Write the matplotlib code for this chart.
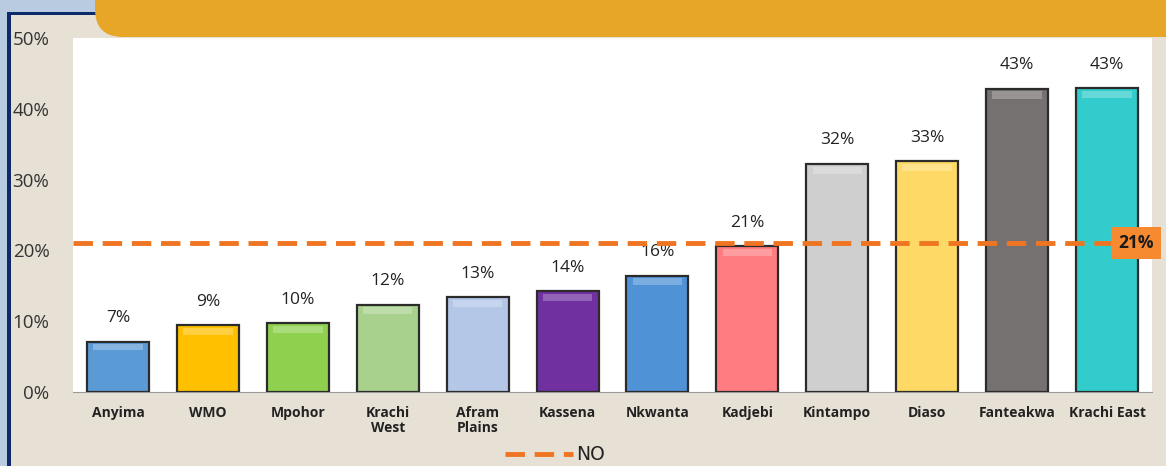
import matplotlib
matplotlib.use("Agg")
import matplotlib.pyplot as plt
from matplotlib.patches import FancyBboxPatch, Rectangle
from matplotlib.lines import Line2D
import numpy as np

categories = ["Anyima", "WMO", "Mpohor", "Krachi\nWest", "Afram\nPlains", "Kassena",
              "Nkwanta", "Kadjebi", "Kintampo", "Diaso", "Fanteakwa", "Krachi East"]
values = [7.1, 9.4, 9.7, 12.3, 13.4, 14.2, 16.4, 20.6, 32.2, 32.6, 42.8, 42.9]
value_labels = ["7%", "9%", "10%", "12%", "13%", "14%", "16%", "21%", "32%", "33%", "43%", "43%"]
bar_colors = ["#5b9bd5", "#ffc000", "#8fd14f", "#a9d18e", "#b4c7e7", "#7030a0",
              "#4f92d6", "#ff7c80", "#cfcfcf", "#ffd966", "#767171", "#33cccc"]
ref_value = 21
ref_label = "21%"
legend_label = "NO"
yticks = [0, 10, 20, 30, 40, 50]
ytick_labels = ["0%", "10%", "20%", "30%", "40%", "50%"]

W, H = 1166, 466
fig = plt.figure(figsize=(W / 100, H / 100), dpi=100, facecolor="#e6e1d4")

# decorations
fig.patches.append(Rectangle((0, 0), 7 / W, 1, transform=fig.transFigure,
                             facecolor="#b8cbe0", edgecolor="none", zorder=0))
fig.patches.append(Rectangle((0, (H - 12) / H), 95 / W, 12 / H, transform=fig.transFigure,
                             facecolor="#b8cbe0", edgecolor="none", zorder=0))
fig.patches.append(Rectangle((7 / W, 0), 4 / W, (H - 12) / H, transform=fig.transFigure,
                             facecolor="#0d2a6b", edgecolor="none", zorder=1))
fig.patches.append(Rectangle((7 / W, (H - 15) / H), 90 / W, 3 / H, transform=fig.transFigure,
                             facecolor="#0d2a6b", edgecolor="none", zorder=1))
fig.patches.append(FancyBboxPatch((95 / W, (H - 37) / H), 1.2, 0.2,
                                  boxstyle="round,pad=0,rounding_size=0.024",
                                  transform=fig.transFigure, mutation_aspect=2.5,
                                  facecolor="#e8a628", edgecolor="none", zorder=2))

ax = fig.add_axes([73 / W, (H - 392) / H, 1079 / W, 354 / H])
ax.set_facecolor("white")
x = np.arange(len(categories))
bars = ax.bar(x, values, width=0.69, color=bar_colors, edgecolor="#2b2b2b",
              linewidth=1.6, zorder=3)
# bevel highlight near the top of each bar
ax.bar(x, [min(1.0, v * 0.12) for v in values], width=0.55,
       bottom=[v - min(1.0, v * 0.12) - 0.35 for v in values],
       color="white", alpha=0.25, edgecolor="none", zorder=4)

for xi, v, lab in zip(x, values, value_labels):
    ax.text(xi, v + 2.2, lab, ha="center", va="bottom", fontsize=12.5,
            color="#222222", family="Open Sans")

ax.axhline(ref_value, color="#f07522", linewidth=3.5, linestyle=(0, (4, 2)), zorder=5)
ax.text(0.985, ref_value, ref_label, transform=ax.get_yaxis_transform(), ha="center",
        va="center", fontsize=12.5, fontweight="bold", color="#1a1a1a", family="Open Sans",
        bbox=dict(boxstyle="square,pad=0.4", facecolor="#f58a30", edgecolor="none"),
        zorder=6, clip_on=False)

ax.set_xlim(-0.5, len(categories) - 0.5)
ax.set_ylim(0, 50)
ax.set_yticks(yticks)
ax.set_yticklabels(ytick_labels, fontsize=13.5, color="#333333", family="Open Sans")
ax.set_xticks(x)
ax.set_xticklabels(categories, fontsize=10, fontweight="bold", color="#222222",
                   family="Open Sans", linespacing=1.1)
ax.tick_params(axis="y", length=0, pad=17)
ax.tick_params(axis="x", length=0, pad=10)
for s in ["top", "right", "left"]:
    ax.spines[s].set_visible(False)
ax.spines["bottom"].set_color("#999999")

handle = Line2D([], [], color="#f07522", linewidth=3.5, linestyle=(0, (4, 2)))
leg = fig.legend([handle], [legend_label], loc="center", bbox_to_anchor=(555 / W, 11 / H),
                 frameon=False, fontsize=13.5, handlelength=3.6, handletextpad=0.15)
for t in leg.get_texts():
    t.set_color("#222222")

fig.savefig("out.png", dpi=100, facecolor=fig.get_facecolor())
